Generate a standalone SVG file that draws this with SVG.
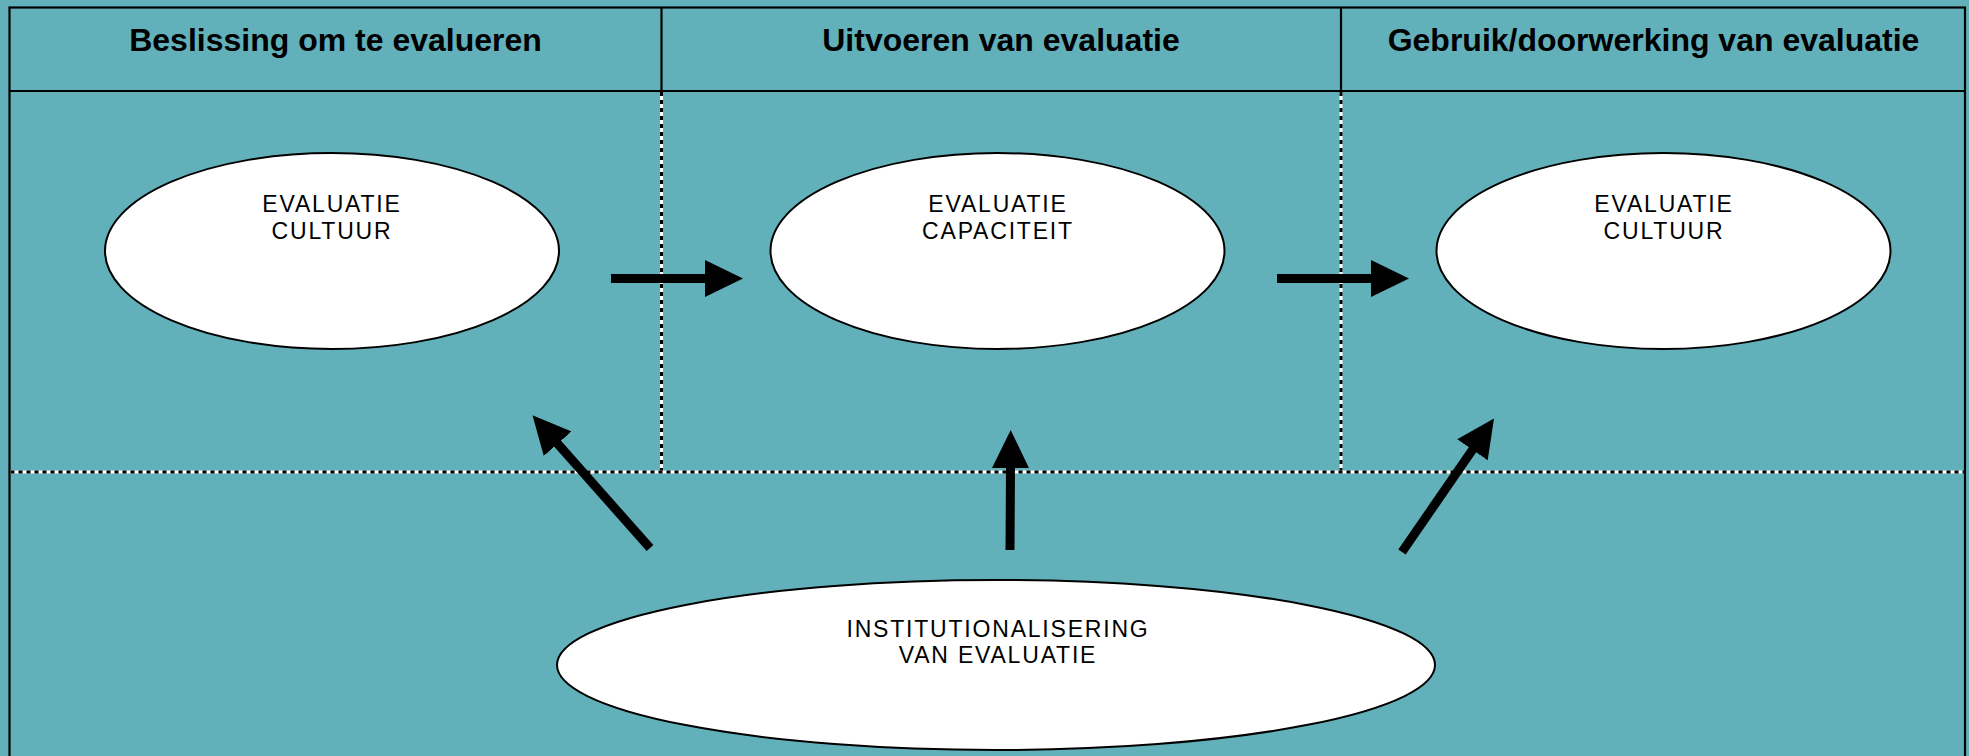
<svg xmlns="http://www.w3.org/2000/svg" width="1969" height="756" viewBox="0 0 1969 756">
<style>
.hdr{font-family:"Liberation Sans",Arial,sans-serif;font-size:32px;font-weight:bold;fill:#000;text-anchor:middle}
.lbl{font-family:"Liberation Sans",Arial,sans-serif;font-size:23px;fill:#000;text-anchor:middle;letter-spacing:1.8px}
.ell{fill:#fff;stroke:#000;stroke-width:2}
.solid{stroke:#000;stroke-width:2.2;fill:none}
.dw{stroke:#fff;stroke-width:3;fill:none}
.db{stroke:#000;stroke-width:3;fill:none;stroke-dasharray:4 4}
.arr{stroke:#000;stroke-width:9;fill:none;marker-end:url(#ah)}
</style>
<defs>
<marker id="ah" markerUnits="userSpaceOnUse" viewBox="0 0 38 37" markerWidth="38" markerHeight="37" refX="1" refY="18.5" orient="auto">
<path d="M0,0 L38,18.5 L0,37 Z" fill="#000"/>
</marker>
</defs>
<rect x="0" y="0" width="1969" height="756" fill="#62B1BA"/>
<g id="frame">
<rect x="9.5" y="7.5" width="1955.5" height="760" class="solid"/>
<line x1="9.5" y1="91" x2="1965" y2="91" class="solid"/>
<line x1="661.5" y1="7.5" x2="661.5" y2="91" class="solid"/>
<line x1="1341" y1="7.5" x2="1341" y2="91" class="solid"/>
<line x1="661.5" y1="92" x2="661.5" y2="471" class="dw"/>
<line x1="661.5" y1="92" x2="661.5" y2="471" class="db"/>
<line x1="1341" y1="92" x2="1341" y2="471" class="dw"/>
<line x1="1341" y1="92" x2="1341" y2="471" class="db"/>
<line x1="10.5" y1="472" x2="1964" y2="472" class="dw"/>
<line x1="10.5" y1="472" x2="1964" y2="472" class="db"/>
</g>
<g id="headers">
<text class="hdr" x="335.5" y="51">Beslissing om te evalueren</text>
<text class="hdr" x="1001" y="51">Uitvoeren van evaluatie</text>
<text class="hdr" x="1653.5" y="51">Gebruik/doorwerking van evaluatie</text>
</g>
<g id="node-cultuur1">
<ellipse class="ell" cx="332" cy="251" rx="227" ry="98"/>
<text class="lbl" x="332" y="212">EVALUATIE</text>
<text class="lbl" x="332" y="239">CULTUUR</text>
</g>
<g id="node-capaciteit">
<ellipse class="ell" cx="997.5" cy="251" rx="227" ry="98"/>
<text class="lbl" x="998" y="212">EVALUATIE</text>
<text class="lbl" x="998" y="239">CAPACITEIT</text>
</g>
<g id="node-cultuur2">
<ellipse class="ell" cx="1663.5" cy="251" rx="227" ry="98"/>
<text class="lbl" x="1664" y="212">EVALUATIE</text>
<text class="lbl" x="1664" y="239">CULTUUR</text>
</g>
<g id="node-institutionalisering">
<ellipse class="ell" cx="996" cy="665" rx="439" ry="85"/>
<text class="lbl" x="998" y="637">INSTITUTIONALISERING</text>
<text class="lbl" x="998" y="663">VAN EVALUATIE</text>
</g>
<g id="connectors">
<line class="arr" x1="611" y1="278.5" x2="706" y2="278.5"/>
<line class="arr" x1="1277" y1="278.5" x2="1372" y2="278.5"/>
<line class="arr" x1="1010" y1="550" x2="1010.5" y2="467"/>
<line class="arr" x1="650" y1="548" x2="557" y2="443"/>
<line class="arr" x1="1402" y1="552" x2="1473" y2="449"/>
</g>
</svg>
